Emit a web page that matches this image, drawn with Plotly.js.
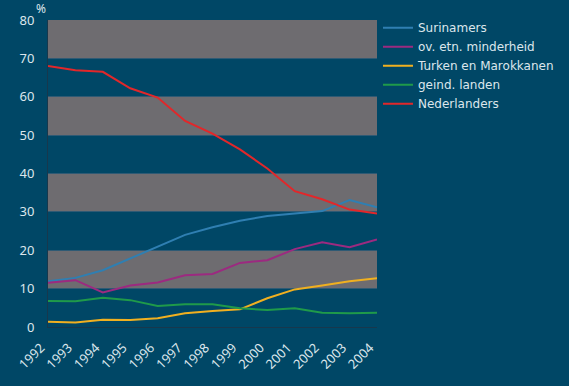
<!DOCTYPE html>
<html>
<head>
<meta charset="utf-8">
<script src="https://cdn.plot.ly/plotly-3.0.1.min.js"></script>
<style>html,body{margin:0;padding:0;background:#004766;}#chart{width:569px;height:386px;}</style>
</head>
<body>
<div id="chart"></div>
<script>
var years = [1992,1993,1994,1995,1996,1997,1998,1999,2000,2001,2002,2003,2004];
var seriesNames = ["Surinamers","ov. etn. minderheid","Turken en Marokkanen","geind. landen","Nederlanders"];
var surinamers = [11.9,12.8,14.8,17.9,21.1,24.0,26.0,27.7,28.9,29.6,30.2,33.1,31.2];
var ovEtnMinderheid = [11.5,12.2,9.0,10.8,11.6,13.5,13.8,16.7,17.4,20.3,22.1,20.8,22.8];
var turkenMarokkanen = [1.4,1.2,1.9,1.8,2.3,3.6,4.2,4.6,7.5,9.8,10.8,11.9,12.7];
var geindLanden = [6.8,6.7,7.6,7.0,5.5,5.9,5.9,4.9,4.4,4.9,3.7,3.6,3.7];
var nederlanders = [68.0,66.9,66.5,62.2,59.8,53.7,50.4,46.3,41.3,35.4,33.3,30.6,29.6];
var yTicks = [0,10,20,30,40,50,60,70,80];
var bands = [[10,20],[30,40],[50,60],[70,80]];

var colors = ["#2f7fb2","#9c2a80","#f0b020","#1f9a4a","#e2272a"];
var values = [surinamers, ovEtnMinderheid, turkenMarokkanen, geindLanden, nederlanders];

var traces = values.map(function(v, i){
  return {x: years, y: v, name: seriesNames[i], type: 'scatter', mode: 'lines',
          line: {color: colors[i], width: 2}};
});

var shapes = bands.map(function(b){
  return {type:'rect', xref:'paper', yref:'y', x0:0, x1:1, y0:b[0], y1:b[1],
          fillcolor:'#6e6c70', line:{width:0}, layer:'below'};
});

var font = {family: '"Noto Sans", "Open Sans", sans-serif', color: '#dce6ec', size: 13};

var layout = {
  width: 569, height: 386,
  paper_bgcolor: '#004766', plot_bgcolor: '#004766',
  margin: {l: 48, r: 192, t: 20, b: 59, autoexpand: false},
  font: font,
  showlegend: true,
  legend: {x: 1.003, y: 1.022, xanchor: 'left', yanchor: 'top', bgcolor: 'rgba(0,0,0,0)',
           font: {family: '"DejaVu Sans", sans-serif', size: 12, color: '#dce6ec'}, tracegroupgap: 0},
  xaxis: {range: [1992, 2004], tickvals: years, ticktext: years.map(String), tickangle: -45,
          showgrid: false, zeroline: false, showline: true, linecolor: '#17384d', linewidth: 1,
          ticks: '', ticklabelstandoff: 7, ticklabelshift: -7,
          tickfont: {size: 13, color: '#dce6ec'}, fixedrange: true},
  yaxis: {range: [0, 80], tickvals: yTicks, showgrid: true, gridcolor: '#2f5a74', gridwidth: 1,
          zeroline: false, showline: true, linecolor: '#17384d', linewidth: 1, ticks: '',
          ticklabelstandoff: 10, tickfont: {size: 13, color: '#dce6ec'}, fixedrange: true},
  shapes: shapes,
  annotations: [{text: '%', xref: 'paper', yref: 'paper', x: -0.02, y: 1.036, xanchor: 'center', yanchor: 'middle',
                 showarrow: false, font: {size: 12, color: '#dce6ec'}}]
};

Plotly.newPlot('chart', traces, layout, {displayModeBar: false, staticPlot: true});
</script>
</body>
</html>
